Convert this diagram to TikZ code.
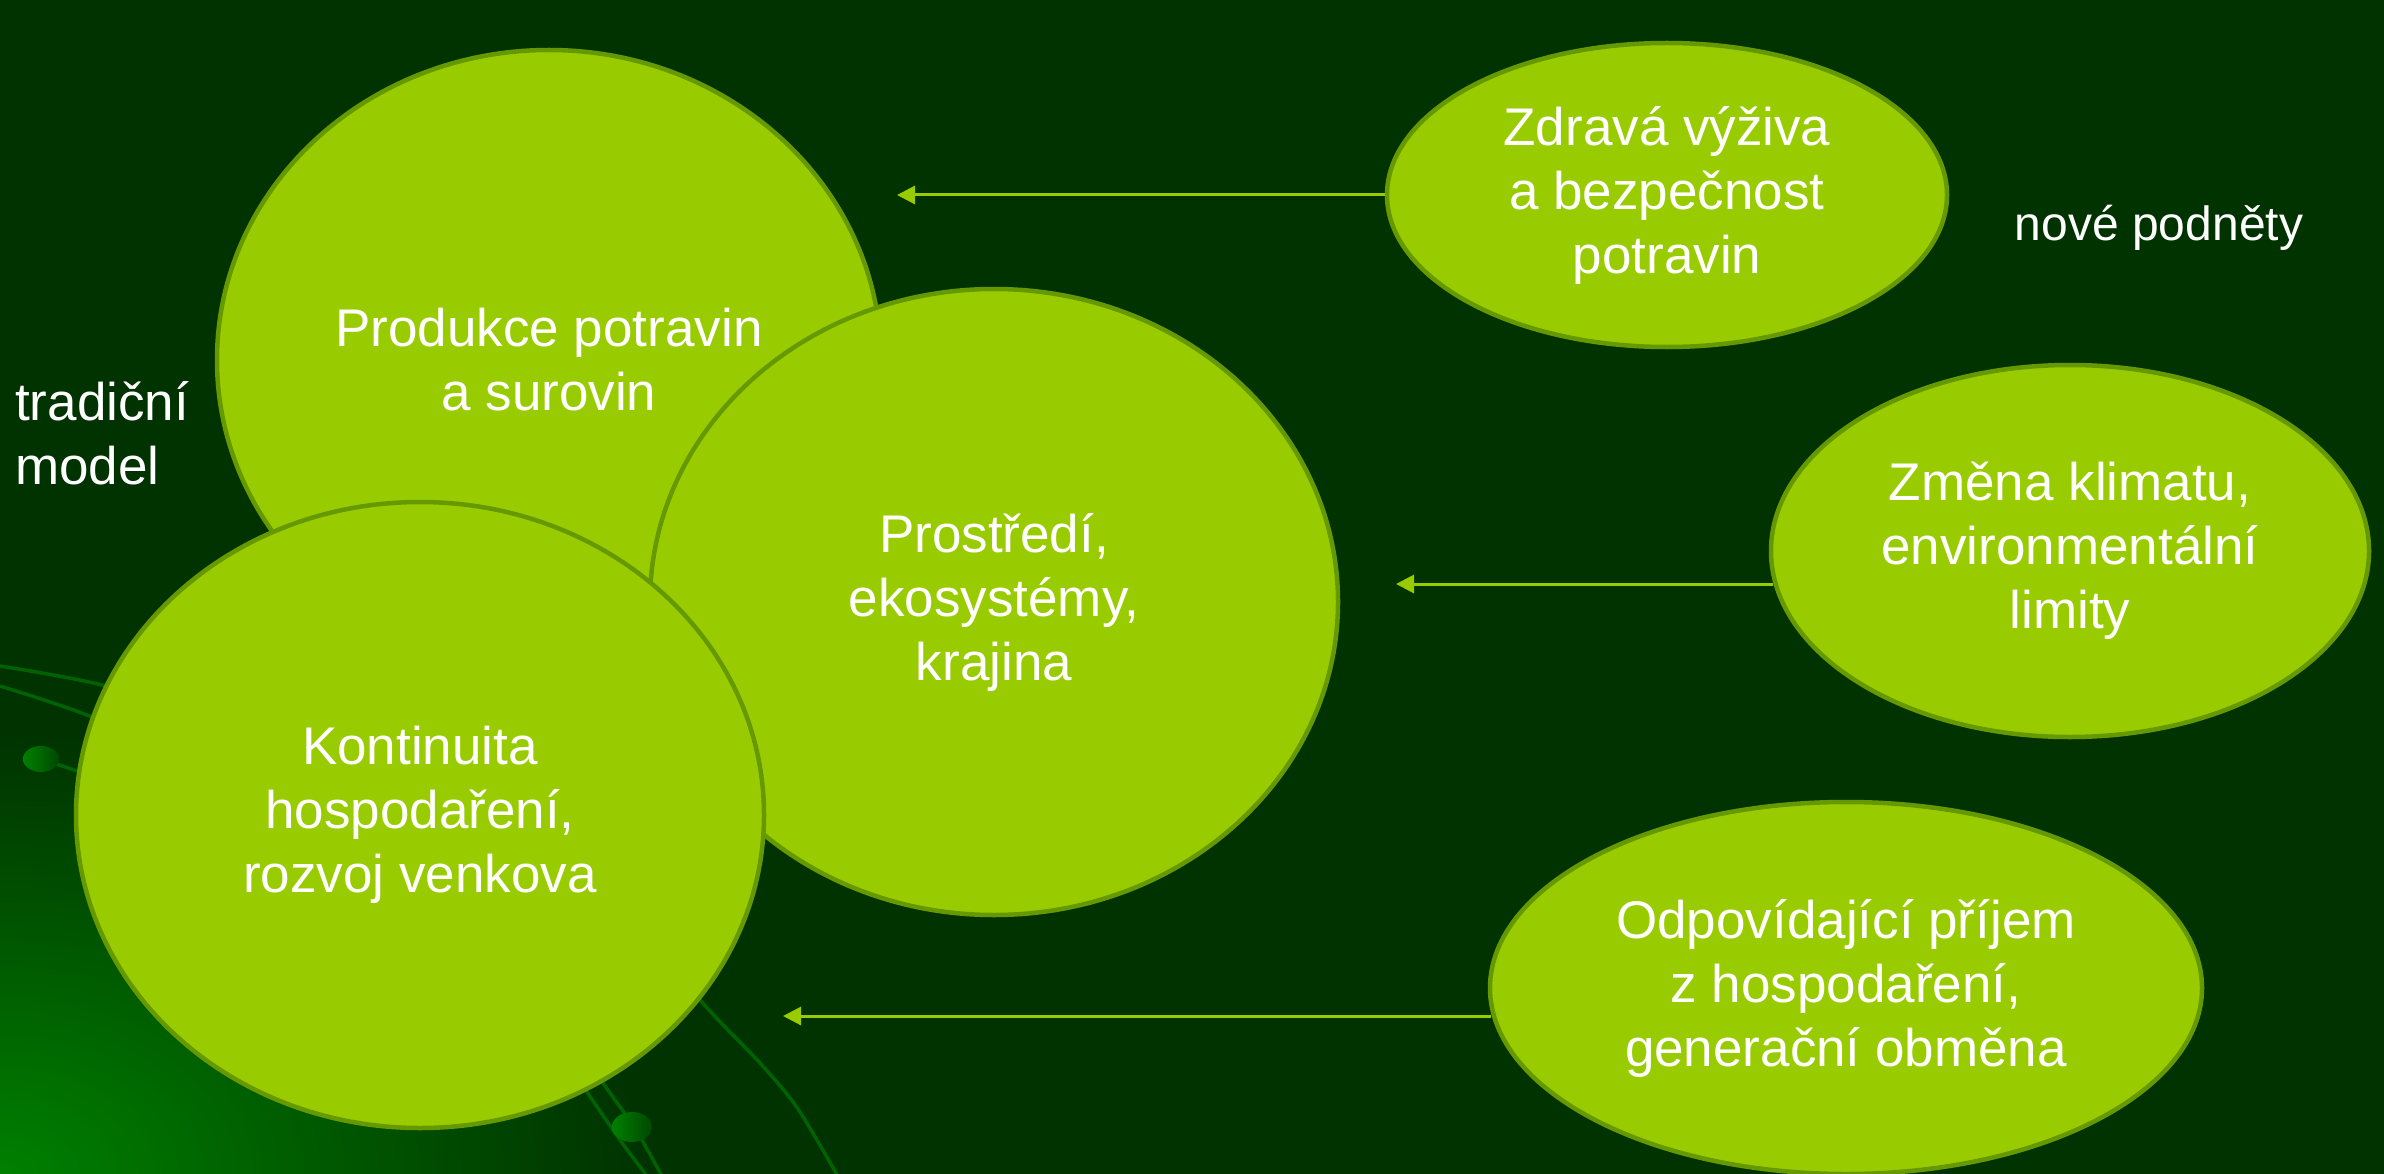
\documentclass[tikz,border=0pt]{standalone}
\usepackage{fontspec}
\setmainfont{Liberation Sans}
\usetikzlibrary{arrows.meta,shapes.geometric}
\definecolor{bg}{HTML}{003300}
\definecolor{fillg}{HTML}{99CC00}
\definecolor{edgeg}{HTML}{669900}
\definecolor{deco}{HTML}{006200}
\definecolor{glow}{HTML}{008000}
\definecolor{beadlight}{HTML}{008000}
\definecolor{beaddark}{HTML}{004800}
\begin{document}
\begin{tikzpicture}[x=1pt,y=-1pt,
  bubble/.style={ellipse, draw=edgeg, fill=fillg, line width=4.5pt, inner sep=0pt,
    text=white, align=center, font=\fontsize{53}{64}\selectfont},
  feed/.style={draw=fillg, line width=3pt, -{Triangle[length=18pt,width=18pt]}},
  vine/.style={draw=deco, line width=3.5pt},
  bead/.style={left color=beadlight, right color=beaddark, draw=none},
  plain/.style={text=white, inner sep=0pt, font=\fontsize{53}{64}\selectfont}
]
\fill[bg] (0,0) rectangle (2384,1174);
\useasboundingbox (0,0) rectangle (2384,1174);
\begin{scope}
  \clip (0,0) rectangle (2384,1174);
  \shade[inner color=glow, outer color=bg] (0,1174) ellipse[x radius=640, y radius=440];
  % background vines
  \draw[vine] plot[smooth] coordinates {(0,666) (106,686) (220,725)};
  \draw[vine] plot[smooth] coordinates {(0,686) (92,717) (190,765)};
  \draw[vine] plot[smooth] coordinates {(41,759) (80,772) (160,800)};
  \draw[vine] plot[smooth] coordinates {(600,880) (700,1000) (760,1063) (798,1109) (840,1180)};
  \draw[vine] plot[smooth] coordinates {(545,1030) (587,1092) (620,1140) (650,1180)};
  \draw[vine] plot[smooth] coordinates {(565,1025) (603,1083) (636,1130) (664,1180)};
  \path[bead] (41,759) ellipse[x radius=18, y radius=13];
  \path[bead] (632,1127) ellipse[x radius=20, y radius=15];
\end{scope}

\node[bubble, minimum width=664pt, minimum height=620pt] (prod) at (549,360) {Produkce potravin\\a surovin};
\node[bubble, minimum width=688pt, minimum height=626pt] (pros) at (994,602) {Prostředí,\\ekosystémy,\\krajina};
\node[bubble, minimum width=688pt, minimum height=626pt] (kont) at (420,815) {Kontinuita\\hospodaření,\\rozvoj venkova};
\node[bubble, minimum width=560pt, minimum height=304pt] (zdr) at (1667,195) {Zdravá výživa\\a bezpečnost\\potravin};
\node[bubble, minimum width=598pt, minimum height=372pt] (zm) at (2070,551) {Změna klimatu,\\environmentální\\limity};
\node[bubble, minimum width=712pt, minimum height=372pt] (odp) at (1846,988) {Odpovídající příjem\\z hospodaření,\\generační obměna};

\coordinate (t1) at (897,195);
\coordinate (t2) at (1396,584);
\coordinate (t3) at (783,1016);
\draw[feed] (zdr.west) -- (t1);
\draw[feed] (zm.186 |- t2) -- (t2);
\draw[feed] (odp.184.5 |- t3) -- (t3);

\node[plain, align=left, anchor=west] (trad) at (15,433) {tradiční\\model};
\node[plain, font=\fontsize{48}{58}\selectfont] (nove) at (2159,228) {nové podněty};
\end{tikzpicture}
\end{document}
